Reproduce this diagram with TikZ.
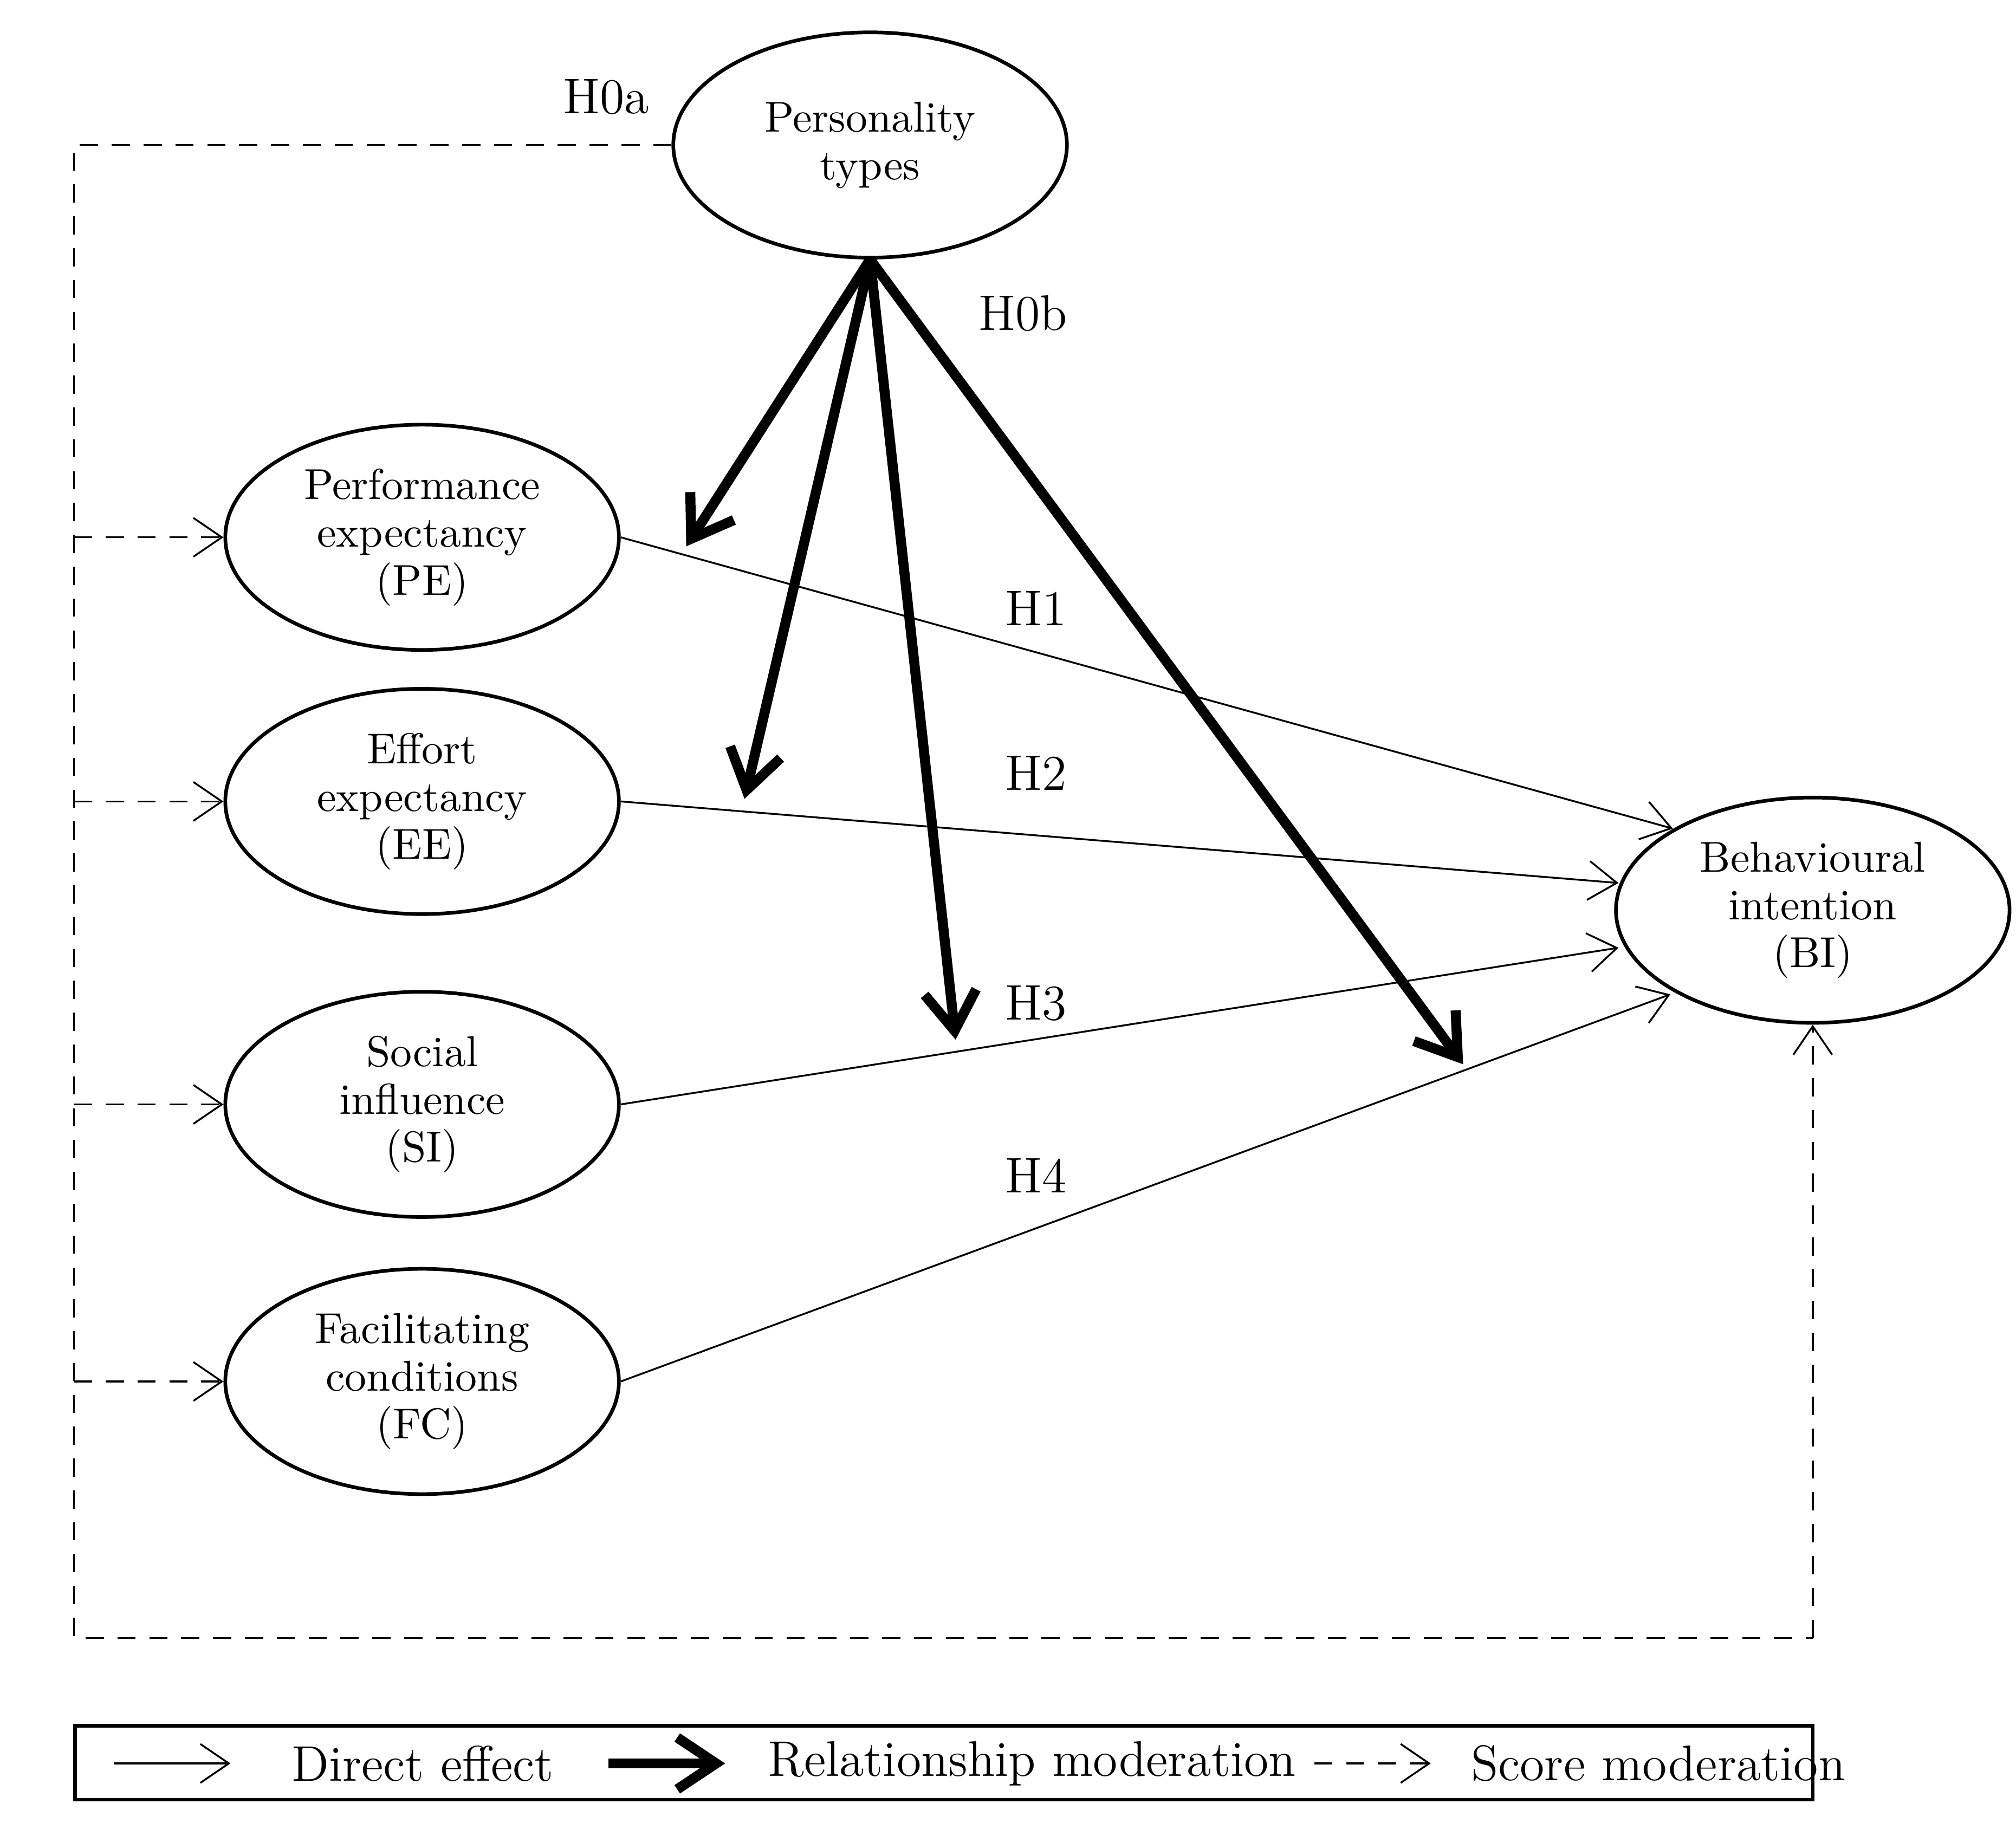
\documentclass[tikz,border=0pt]{standalone}
\usepackage{tikz}
\usetikzlibrary{shapes.geometric,arrows.meta}
\tikzset{
  construct/.style={ellipse,draw,thick,minimum width=3.04cm,minimum height=1.74cm,align=center,font=\fontsize{9.5}{10.5}\selectfont,inner sep=0pt},
  direct/.style={thin,-{Straight Barb[length=2.2mm,width=3mm]}},
  relmod/.style={line width=2.2pt,-{Straight Barb[length=3mm,width=4mm]}},
  scoremod/.style={thin,dashed,dash pattern=on 4pt off 3pt,-{Straight Barb[length=2.2mm,width=3mm]}},
  hlabel/.style={font=\fontsize{11}{12}\selectfont}
}
\begin{document}
\begin{tikzpicture}[thick]
		\useasboundingbox (0,0) rectangle (15.57,14.08);
		\node[construct] (PT) at (6.72,12.96) {Personality\\types};
		\node[construct] (PE) at (3.26,9.93) {Performance\\expectancy\\(PE)};
		\node[construct] (EE) at (3.26,7.89) {Effort\\expectancy\\(EE)};
		\node[construct] (SI) at (3.26,5.55) {Social\\influence\\(SI)};
		\node[construct] (FC) at (3.26,3.41) {Facilitating\\conditions\\(FC)};
		\node[construct] (BI) at (14.00,7.05) {Behavioural\\intention\\(BI)};

		% score moderation
		\coordinate (C0) at (0.57,12.96);
		\coordinate (C1) at (0.57,1.43);
		\coordinate (C2) at (14.00,1.43);
		\draw[thin,dashed,dash pattern=on 4pt off 3pt] (PT.west) -- (C0) -- (C1) -- (C2);
		\draw[scoremod] (C2) -- (BI.south);
		\foreach \n in {PE,EE,SI,FC}
		\draw[scoremod] (C0 |- \n.west) -- (\n.west);

		% direct effects
		\draw[direct] (PE.east) -- (12.92,7.68);
		\draw[direct] (EE.east) -- (12.50,7.26);
		\draw[direct] (SI.east) -- (12.50,6.76);
		\draw[direct] (FC.east) -- (12.90,6.40);

		% relationship moderation
		\coordinate (M1) at (5.30,9.86);
		\coordinate (M2) at (5.75,7.91);
		\coordinate (M3) at (7.38,6.05);
		\coordinate (M4) at (11.30,5.86);
		\foreach \m in {M1,M2,M3,M4}
		\draw[relmod] (PT.south) -- (\m);

		\node[hlabel] (H0a) at (4.68,13.33) {H0a};
		\node[hlabel] (H0b) at (7.90,11.66) {H0b};
		\node[hlabel] (H1) at (8.00,9.38) {H1};
		\node[hlabel] (H2) at (8.00,8.11) {H2};
		\node[hlabel] (H3) at (8.00,6.33) {H3};
		\node[hlabel] (H4) at (8.00,5.00) {H4};

		% legend
		\draw[thick] (0.58,0.18) rectangle (14.00,0.75);
		\coordinate (L1a) at (0.88,0.46); \coordinate (L1b) at (1.78,0.46);
		\coordinate (L2a) at (4.70,0.46); \coordinate (L2b) at (5.60,0.46);
		\coordinate (L3a) at (10.15,0.46); \coordinate (L3b) at (11.05,0.46);
		\draw[direct] (L1a) -- (L1b);
		\draw[relmod] (L2a) -- (L2b);
		\draw[scoremod] (L3a) -- (L3b);
		\node[hlabel,anchor=west] (D) at (2.12,0.46) {Direct effect};
		\node[hlabel,anchor=west] (R) at (5.80,0.46) {Relationship moderation};
		\node[hlabel,anchor=west] (S) at (11.23,0.46) {Score moderation};
\end{tikzpicture}
\end{document}
